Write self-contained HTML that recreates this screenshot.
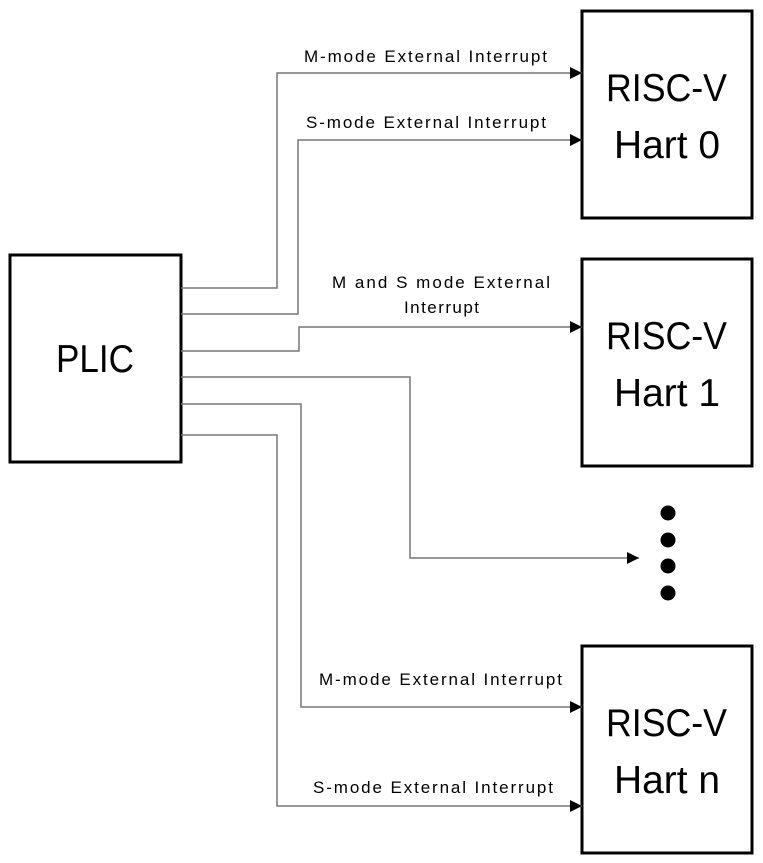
<!DOCTYPE html>
<html><head><style>html,body{margin:0;padding:0;background:#fff}svg{display:block}</style></head><body>
<svg width="763" height="863" xmlns="http://www.w3.org/2000/svg" font-family="Liberation Sans, Arial, sans-serif">
<defs><marker id="a" markerWidth="12" markerHeight="12" refX="12" refY="6" orient="auto" markerUnits="userSpaceOnUse"><path d="M0,0 L12,6 L0,12 z" fill="#000"/></marker></defs>
<g fill="none" stroke="#000" stroke-width="3">
<rect x="10" y="255" width="171" height="207"/>
<rect x="582" y="11" width="170" height="207"/>
<rect x="582" y="259" width="170" height="207"/>
<rect x="582" y="646" width="170" height="207"/>
</g>
<g fill="none" stroke="#777" stroke-width="1.5">
<polyline points="181,288 277,288 277,73 582,73" marker-end="url(#a)"/>
<polyline points="181,314 298,314 298,140 582,140" marker-end="url(#a)"/>
<polyline points="181,351 299,351 299,327 582,327" marker-end="url(#a)"/>
<polyline points="181,377 410,377 410,558 639,558" marker-end="url(#a)"/>
<polyline points="181,404 301,404 301,707 582,707" marker-end="url(#a)"/>
<polyline points="181,435 277,435 277,806 582,806" marker-end="url(#a)"/>
</g>
<g fill="#000">
<circle cx="668" cy="513" r="7.5"/><circle cx="668" cy="540" r="7.5"/><circle cx="668" cy="566" r="7.5"/><circle cx="668" cy="593" r="7.5"/>
</g>
<g font-size="17" fill="#000">
<text x="304" y="62" textLength="243" lengthAdjust="spacing">M-mode External Interrupt</text>
<text x="306" y="128" textLength="240" lengthAdjust="spacing">S-mode External Interrupt</text>
<text x="332" y="288" textLength="218" lengthAdjust="spacing">M and S mode External</text>
<text x="404" y="313" textLength="75" lengthAdjust="spacing">Interrupt</text>
<text x="319" y="685" textLength="243" lengthAdjust="spacing">M-mode External Interrupt</text>
<text x="313" y="793" textLength="240" lengthAdjust="spacing">S-mode External Interrupt</text>
</g>
<g font-size="39" fill="#000">
<text x="56" y="372" textLength="78" lengthAdjust="spacingAndGlyphs">PLIC</text>
<text x="606" y="101" textLength="121" lengthAdjust="spacingAndGlyphs">RISC-V</text>
<text x="614" y="158" textLength="106" lengthAdjust="spacingAndGlyphs">Hart 0</text>
<text x="606" y="349" textLength="121" lengthAdjust="spacingAndGlyphs">RISC-V</text>
<text x="614" y="406" textLength="106" lengthAdjust="spacingAndGlyphs">Hart 1</text>
<text x="606" y="736" textLength="121" lengthAdjust="spacingAndGlyphs">RISC-V</text>
<text x="614" y="793" textLength="106" lengthAdjust="spacingAndGlyphs">Hart n</text>
</g>
</svg>
</body></html>
